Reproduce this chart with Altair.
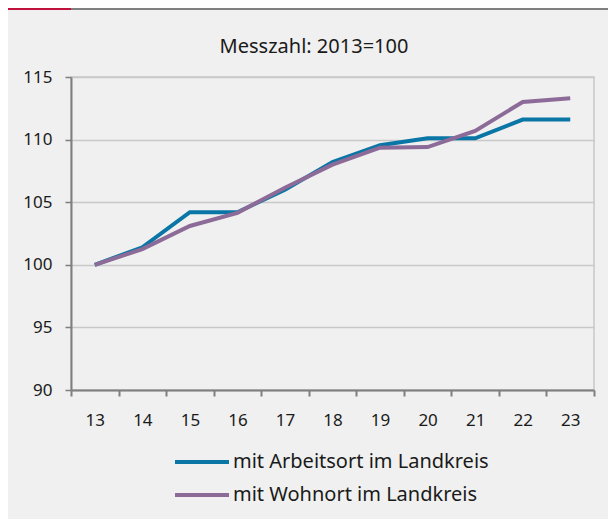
import altair as alt
import pandas as pd

jahre = [13, 14, 15, 16, 17, 18, 19, 20, 21, 22, 23]
tick_labels = ["13", "14", "15", "16", "17", "18", "19", "20", "21", "22", "23"]
arbeitsort = [100.0, 101.4, 104.2, 104.2, 106.0, 108.2, 109.55, 110.1, 110.1, 111.6, 111.6]
wohnort = [100.0, 101.25, 103.1, 104.15, 106.15, 108.0, 109.35, 109.4, 110.7, 113.0, 113.3]
serien = ["mit Arbeitsort im Landkreis", "mit Wohnort im Landkreis"]
farben = ["#0a76a6", "#8d6b98"]
y_ticks = [90, 95, 100, 105, 110, 115]
titel = "Messzahl: 2013=100"

rows = []
for j, a, w in zip(jahre, arbeitsort, wohnort):
    rows.append({"jahr": j, "wert": a, "serie": serien[0]})
    rows.append({"jahr": j, "wert": w, "serie": serien[1]})
df = pd.DataFrame(rows)

tick_pos = [j - 0.5 for j in jahre] + [jahre[-1] + 0.5]
label_expr = " : ".join(
    [f"datum.value == {j - 0.5} ? '{t}'" for j, t in zip(jahre, tick_labels)]
) + " : ''"

FONT = "Noto Sans"

lines = alt.Chart(df).mark_line(strokeWidth=4).encode(
    x=alt.X(
        "jahr:Q",
        scale=alt.Scale(domain=[jahre[0] - 0.5, jahre[-1] + 0.5], nice=False, zero=False),
        axis=alt.Axis(
            values=tick_pos,
            labelExpr=label_expr,
            labelOffset=23.8,
            grid=False,
            domainColor="#7f7f7f",
            domainWidth=2,
            tickColor="#7f7f7f",
            tickWidth=2,
            tickSize=6,
            labelFontSize=17,
            labelFont=FONT,
            labelColor="#1a1a1a",
            labelPadding=16,
            labelOverlap=False,
            labelBound=False,
            labelFlush=False,
            title=None,
        ),
    ),
    y=alt.Y(
        "wert:Q",
        scale=alt.Scale(domain=[90, 115], nice=False, zero=False),
        axis=alt.Axis(
            values=y_ticks,
            grid=True,
            gridColor="#c8c8c8",
            gridWidth=1.5,
            domainColor="#7f7f7f",
            domainWidth=2,
            tickColor="#7f7f7f",
            tickWidth=1.5,
            tickSize=6,
            labelFontSize=17,
            labelFont=FONT,
            labelColor="#1a1a1a",
            labelPadding=13,
            title=None,
        ),
    ),
    color=alt.Color(
        "serie:N",
        scale=alt.Scale(domain=serien, range=farben),
        legend=alt.Legend(
            title=None,
            orient="none",
            legendX=102,
            legendY=374,
            direction="vertical",
            symbolType="stroke",
            symbolSize=2916,
            symbolStrokeWidth=4,
            clipHeight=22,
            rowPadding=11,
            labelFontSize=20,
            labelFont=FONT,
            labelColor="#1a1a1a",
            labelOffset=2,
            labelLimit=0,
        ),
    ),
)

title_mark = alt.Chart(pd.DataFrame({"t": [titel]})).mark_text(
    fontSize=20, font=FONT, color="#1a1a1a", align="center", baseline="middle"
).encode(text="t:N", x=alt.value(243), y=alt.value(-30))

deco_red = alt.Chart(pd.DataFrame({"a": [0]})).mark_rule(color="#c0123c", strokeWidth=2).encode(
    x=alt.value(-63), x2=alt.value(0), y=alt.value(-68)
)
deco_grey = alt.Chart(pd.DataFrame({"a": [0]})).mark_rule(color="#7f7f7f", strokeWidth=2).encode(
    x=alt.value(0), x2=alt.value(545), y=alt.value(-68)
)

chart = alt.layer(deco_red, deco_grey, title_mark, lines).properties(
    width=523,
    height=313,
    autosize=alt.AutoSizeParams(type="none"),
    padding={"left": 63, "top": 69, "right": 14, "bottom": 129},
).configure(background="#eff0ef").configure_view(stroke="#c8c8c8", strokeWidth=1.5)

chart.save("out.html", embed_options={"renderer": "svg", "actions": False})
